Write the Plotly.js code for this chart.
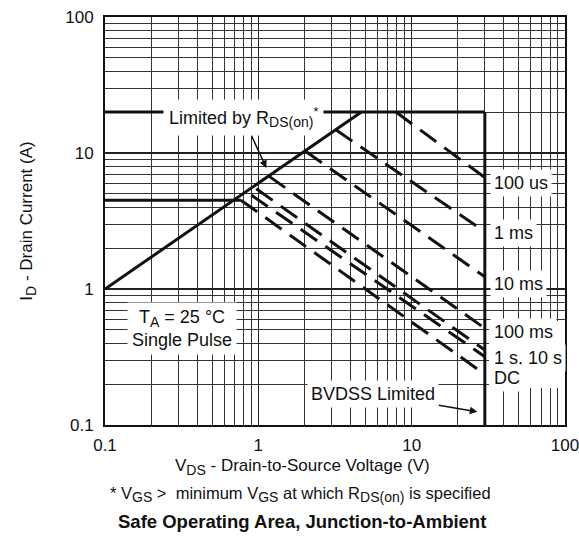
<!DOCTYPE html>
<html>
<head>
<meta charset="utf-8">
<script src="https://cdn.plot.ly/plotly-3.0.1.min.js"></script>
<style>html,body{margin:0;padding:0;background:#fff;}#chart{width:579px;height:537px;}</style>
</head>
<body>
<div id="chart"></div>
<script>
// ---- tick labels ----
const xTickVals = [0.1, 1, 10, 100];
const xTickText = ['0.1', '1', '10', '100'];
const yTickVals = [0.1, 1, 10, 100];
const yTickText = ['0.1', '1', '10', '100'];

// ---- boundary lines (V in volts, I in amps) ----
const rdsOnV = [0.1, 4.7];
const rdsOnI = [1, 20];
const currentLimitV = [0.1, 30];
const currentLimitI = [20, 20];
const dcLimitV = [0.1, 0.77];
const dcLimitI = [4.5, 4.5];
const bvdssV = [30, 30];
const bvdssI = [20, 0.1];

// ---- pulse-width lines ----
const pulseNames = ['100 us', '1 ms', '10 ms', '100 ms', '1 s', '10 s', 'DC'];
const pulseStartV = [7.9, 3.2, 2.03, 1.17, 0.97, 0.9, 0.77];
const pulseStartI = [20, 14.8, 10.3, 6.76, 5.45, 4.9, 4.5];
const pulseEndV = [30, 30, 30, 30, 30, 30, 30];
const pulseEndI = [6.6, 2.64, 1.23, 0.514, 0.356, 0.318, 0.236];

const FONT = 'Liberation Sans, Arial, Helvetica, sans-serif';
const solid = {color: '#111', width: 3};

const traces = [
  {x: rdsOnV, y: rdsOnI, mode: 'lines', line: solid, name: 'RDS(on) limit'},
  {x: currentLimitV, y: currentLimitI, mode: 'lines', line: solid, name: 'Current limit'},
  {x: dcLimitV, y: dcLimitI, mode: 'lines', line: solid, name: 'DC limit'},
  {x: bvdssV, y: bvdssI, mode: 'lines', line: solid, name: 'BVDSS'}
];
pulseNames.forEach((n, i) => {
  traces.push({
    x: [pulseStartV[i], pulseEndV[i]],
    y: [pulseStartI[i], pulseEndI[i]],
    mode: 'lines', name: n,
    line: {color: '#111', width: 3, dash: '20px,10px'}
  });
});

const W = 579, H = 537, L = 105, R = 14, T = 17, B = 112;
const pw = W - L - R, ph = H - T - B;
const px = v => (v - L) / pw;       // pixel -> paper x
const py = v => (H - B - v) / ph;   // pixel -> paper y
const SUB = s => '<sub><span style="font-size:14px">' + s + '</span></sub>';

function lab(text, xpx, ypx, extra) {
  return Object.assign({
    text: text, xref: 'paper', yref: 'paper', x: px(xpx), y: py(ypx),
    xanchor: 'left', yanchor: 'middle', showarrow: false,
    bgcolor: '#fff', borderpad: 3, font: {family: FONT, size: 18, color: '#111'}
  }, extra || {});
}

const annotations = [
  {text: 'Limited by R' + SUB('DS(on)') + '<sup>*</sup>', xref: 'x', yref: 'y',
   x: Math.log10(1.128), y: Math.log10(7.76), ax: -23, ay: -50,
   showarrow: true, arrowhead: 2, arrowsize: 1, arrowwidth: 1.5, arrowcolor: '#111',
   bgcolor: '#fff', borderpad: 5, font: {family: FONT, size: 18, color: '#111'}},
  {text: 'BVDSS Limited', xref: 'x', yref: 'y',
   x: Math.log10(26.8), y: Math.log10(0.125), ax: -104, ay: -18,
   showarrow: true, arrowhead: 2, arrowsize: 1, arrowwidth: 1.5, arrowcolor: '#111',
   bgcolor: '#fff', borderpad: 3, font: {family: FONT, size: 18, color: '#111'}},
  lab('100 us', 490, 183),
  lab('1 ms', 490, 233),
  lab('10 ms', 490, 284),
  lab('100 ms', 490, 332),
  lab('1 s, 10 s', 490, 358),
  lab('DC', 490, 378),
  lab('T' + SUB('A') + ' = 25 °C<br>Single Pulse', 182, 328, {xanchor: 'center', borderpad: 4}),
  {text: 'V' + SUB('DS') + ' - Drain-to-Source Voltage (V)', xref: 'paper', yref: 'paper',
   x: px(302), y: py(467), xanchor: 'center', yanchor: 'middle', showarrow: false,
   font: {family: FONT, size: 17, color: '#111'}},
  {text: '* V' + SUB('GS') + ' >  minimum V' + SUB('GS') + ' at which R' + SUB('DS(on)') + ' is specified', xref: 'paper', yref: 'paper',
   x: px(300), y: py(494), xanchor: 'center', yanchor: 'middle', showarrow: false,
   font: {family: FONT, size: 16.5, color: '#111'}},
  {text: '<b>Safe Operating Area, Junction-to-Ambient</b>', xref: 'paper', yref: 'paper',
   x: px(302), y: py(521), xanchor: 'center', yanchor: 'middle', showarrow: false,
   font: {family: FONT, size: 18.5, color: '#111'}}
];

const shapes = [
  {type: 'rect', xref: 'paper', yref: 'paper', x0: px(489), x1: 1, y0: py(388), y1: py(321),
   fillcolor: '#fff', line: {width: 0}, layer: 'above'}
];

const axisCommon = {
  type: 'log', range: [-1, 2], showline: true, mirror: true, linewidth: 2, linecolor: '#111',
  showgrid: true, gridcolor: '#222', gridwidth: 1.5, zeroline: false, ticks: '',
  ticklabeloverflow: 'allow',
  tickfont: {family: FONT, size: 17, color: '#111'},
  minor: {dtick: 'D1', showgrid: true, gridcolor: '#333', gridwidth: 1, ticks: ''}
};

const layout = {
  width: W, height: H,
  margin: {l: L, r: R, t: T, b: B},
  paper_bgcolor: '#fff', plot_bgcolor: '#fff',
  showlegend: false,
  font: {family: FONT, size: 17, color: '#111'},
  xaxis: Object.assign({}, axisCommon, {tickvals: xTickVals, ticktext: xTickText, ticklabelstandoff: 4}),
  yaxis: Object.assign({}, axisCommon, {tickvals: yTickVals, ticktext: yTickText, ticklabelstandoff: 6,
    title: {text: 'I' + SUB('D') + ' - Drain Current (A)', font: {family: FONT, size: 17, color: '#111'}, standoff: 28}}),
  annotations: annotations,
  shapes: shapes
};

Plotly.newPlot('chart', traces, layout, {displayModeBar: false, staticPlot: true});
</script>
</body>
</html>
